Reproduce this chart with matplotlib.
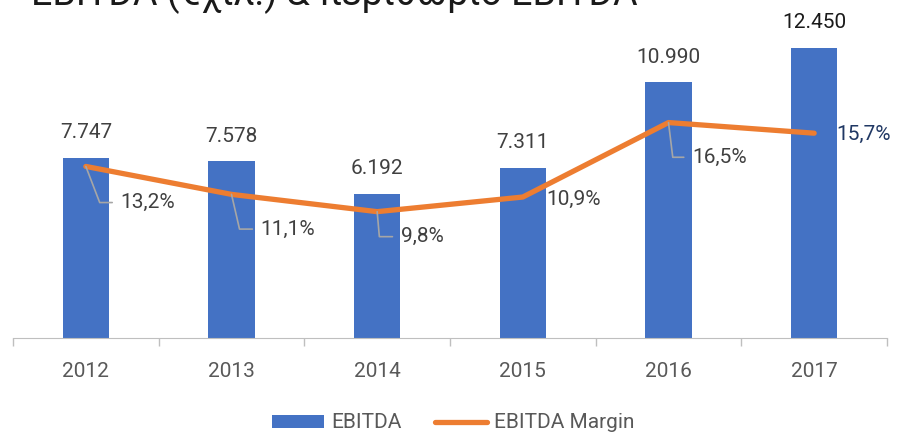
import matplotlib
matplotlib.use("Agg")
import matplotlib.pyplot as plt
import numpy as np

# chart data
years = ["2012", "2013", "2014", "2015", "2016", "2017"]
ebitda = [7747, 7578, 6192, 7311, 10990, 12450]
margin = [13.2, 11.1, 9.8, 10.9, 16.5, 15.7]
title = "EBITDA (€χιλ.) & περιθώριο EBITDA"

# colours
bar_col = '#4472C4'
line_col = '#ED7D31'
text_col = '#404040'
axis_col = '#BFBFBF'
leader_col = '#A6A6A6'

plt.rcParams['font.family'] = ['Roboto', 'DejaVu Sans']
fs = 15

fig = plt.figure(figsize=(8.99, 4.34), dpi=100)
W, H = 899, 434
ax1 = fig.add_axes([13 / W, 1 - 338 / H, (887 - 13) / W, (338 - 12) / H])

x = np.arange(len(years))
ax1.bar(x, ebitda, width=0.32, color=bar_col, zorder=2, label='EBITDA')
ax1.set_xlim(-0.5, len(years) - 0.5)
ax1.set_ylim(0, 12450 * 326 / 290)

# bar value labels
for i, v in enumerate(ebitda):
    col = '#1a1a1a' if i == len(ebitda) - 1 else text_col
    ax1.annotate(f"{v:,}".replace(',', '.'), (x[i], v), xytext=(0, 18),
                 textcoords='offset points', ha='center', va='center',
                 fontsize=fs, color=col)

# axis styling
for s in ['top', 'right', 'left']:
    ax1.spines[s].set_visible(False)
ax1.spines['bottom'].set_color(axis_col)
ax1.set_yticks([])
ax1.set_xticks(x)
ax1.set_xticklabels(years, fontsize=fs, color='#595959')
ax1.tick_params(axis='x', length=0, pad=17)
ax1.set_xticks(np.arange(-0.5, len(years)), minor=True)
ax1.tick_params(axis='x', which='minor', length=6, color=axis_col, width=1)

# margin line on secondary axis
ax2 = ax1.twinx()
ax2.set_ylim(4 / 13.3, (342 - 12) / 13.3)
ax2.plot(x, margin, color=line_col, lw=3.8, solid_capstyle='round', zorder=3,
         label='EBITDA Margin')
ax2.axis('off')

# margin labels: offset in points, leader angle (None = no leader)
offsets = [(25, -26), (21, -25), (17, -18), (17, -2), (17, -25), (16, -1)]
leaders = [111, 103, 95, None, 97, None]
for i, v in enumerate(margin):
    txt = f"{v:.1f}%".replace('.', ',')
    col = '#203864' if i == len(margin) - 1 else text_col
    arrow = None
    if leaders[i] is not None:
        arrow = dict(arrowstyle='-', color=leader_col, lw=1.2, relpos=(0, 0.5),
                     shrinkA=4, shrinkB=0,
                     connectionstyle=f"angle,angleA=0,angleB={leaders[i]},rad=0")
    ax2.annotate(txt, (x[i], v), xytext=offsets[i], textcoords='offset points',
                 ha='left', va='center', fontsize=fs, color=col,
                 arrowprops=arrow, zorder=4)

# title (clipped at top like the reference)
fig.text(31 / W, 1 - 5 / H, title, fontsize=27, color='#1a1a1a',
         ha='left', va='baseline')

# legend
h1, l1 = ax1.get_legend_handles_labels()
h2, l2 = ax2.get_legend_handles_labels()
fig.legend(h1 + h2, l1 + l2, loc='center', bbox_to_anchor=(453 / W, 1 - 423 / H),
           ncol=2, frameon=False, fontsize=fs, handlelength=2.5, handleheight=0.6,
           handletextpad=0.35, columnspacing=1.6, labelcolor='#595959')

fig.savefig('out.png', dpi=100)
